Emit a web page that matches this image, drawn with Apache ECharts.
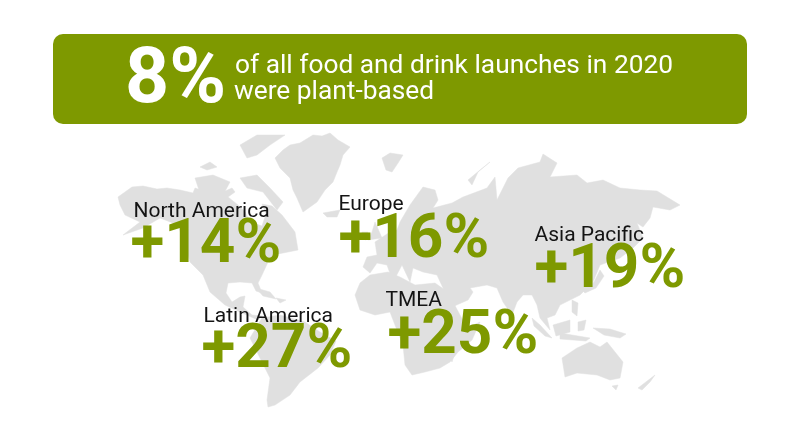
<!DOCTYPE html>
<html><head><meta charset="utf-8">
<style>html,body{margin:0;padding:0;background:#fff}#c{width:800px;height:428px}</style>
<script src="https://cdn.jsdelivr.net/npm/echarts@6/dist/echarts.min.js"></script>
</head><body><div id="c"></div>
<script>
const regions = ['North America','Europe','Asia Pacific','Latin America','TMEA'];
const growth = [14,16,19,27,25];
const headlineValue = 8;
const headlineLines = ['of all food and drink launches in 2020','were plant-based'];
const nameAnchors = [[133,212],[338,205],[534,236],[203,317],[385,301]];
const valueAnchors = [[130,246],[338,241],[534,271],[201,351],[387,337]];

const GREEN='#7e9900', GREY='#e0e0e0';
// decorative backdrop outlines, traced in reference pixels
const land = [
 // North America
 [[118,197],[125,192],[132,187],[143,186],[157,189],[167,188],[180,190],[193,193],[195,188],[210,193],[223,192],[232,188],[235,192],[228,197],[238,205],[245,212],[250,222],[262,226],[266,214],[262,204],[272,206],[282,215],[295,232],[298,250],[278,254],[268,262],[262,275],[258,283],[262,293],[256,291],[252,283],[240,282],[228,283],[226,293],[232,302],[240,297],[245,296],[243,307],[252,315],[262,316],[258,320],[240,312],[225,305],[210,292],[203,275],[190,262],[185,245],[178,225],[160,218],[143,228],[123,235],[140,222],[125,215],[120,205]],
 // South America
 [[262,318],[280,315],[305,322],[320,332],[336,341],[330,355],[318,368],[300,382],[290,395],[275,405],[268,407],[267,400],[270,378],[260,358],[250,338]],
 // Greenland
 [[275,158],[283,150],[290,145],[300,143],[313,135],[322,136],[330,133],[338,140],[350,147],[343,155],[340,165],[337,172],[333,182],[325,190],[317,202],[303,212],[297,198],[293,190],[290,178],[280,168]],
 // Arctic islands
 [[240,145],[257,135],[285,135],[270,145],[257,155],[247,158]],
 [[240,178],[257,175],[270,188],[283,202],[277,210],[263,192],[247,188]],
 [[195,178],[213,175],[230,182],[223,195],[200,193]],
 [[200,167],[210,162],[217,167],[207,170]],
 [[323,213],[340,210],[337,217],[327,217]],
 [[256,288],[270,292],[276,299],[263,296]],[[276,298],[286,300],[280,303]],
 // Eurasia with inland seas
 [[[400,222],[410,205],[423,187],[435,190],[438,200],[433,208],[452,203],[463,197],[487,188],[495,177],[497,200],[508,178],[518,168],[540,162],[543,154],[557,163],[550,177],[577,175],[587,183],[603,180],[620,188],[640,190],[657,191],[680,205],[670,210],[653,207],[650,218],[643,227],[637,223],[643,238],[633,248],[620,258],[600,265],[593,282],[580,295],[570,300],[560,305],[555,315],[547,318],[550,330],[540,318],[537,305],[532,295],[523,295],[517,302],[512,315],[503,302],[497,288],[487,285],[470,288],[473,292],[468,300],[452,307],[443,288],[437,275],[423,272],[413,268],[410,282],[402,265],[393,282],[387,265],[377,263],[370,273],[363,267],[367,257],[377,255],[375,242],[390,232],[397,230]],
  [[420,260],[430,258],[432,264],[422,266]],[[455,258],[462,260],[463,272],[456,270]]],
 // Africa
 [[355,295],[360,283],[370,275],[388,272],[400,277],[415,285],[435,283],[445,290],[452,300],[460,315],[467,328],[480,322],[472,340],[458,352],[450,362],[440,368],[425,372],[412,375],[405,365],[403,345],[395,325],[390,312],[375,315],[360,310]],
 // Islands of Europe and the north
 [[375,222],[382,238],[368,240],[372,232]],[[362,232],[368,232],[366,240],[361,238]],
 [[382,158],[390,153],[403,155],[398,163],[392,172],[386,170]],
 [[468,180],[480,170],[490,162],[478,172],[472,185]],
 // Asia-Pacific islands
 [[600,270],[604,276],[596,288],[585,293],[582,290],[594,282]],
 [[532,318],[540,325],[552,338],[545,336],[534,326]],
 [[553,325],[570,320],[570,332],[556,336]],
 [[572,300],[578,303],[577,316],[572,312]],
 [[560,333],[590,338],[586,341],[560,339]],
 [[578,322],[586,320],[584,330],[578,331]],
 [[593,328],[610,329],[626,334],[620,338],[604,335]],
 // Australia and neighbours
 [[562,358],[577,348],[590,342],[600,347],[607,342],[623,362],[620,378],[610,380],[597,375],[577,373],[565,377]],
 [[612,386],[618,385],[616,390]],[[638,388],[655,375],[650,382],[642,390]],
 // Madagascar
 [[450,358],[457,343],[455,352],[452,362]]
];
const features = land.map((p,i)=>({type:'Feature',properties:{name:'land'+i},
  geometry:{type:'Polygon',coordinates:(Array.isArray(p[0][0])?p:[p]).map(r=>{const q=r.map(([x,y])=>[x,-y]);q.push(q[0]);return q;})}}));
echarts.registerMap('backdrop',{type:'FeatureCollection',features});

const chart = echarts.init(document.getElementById('c'),null,{renderer:'canvas'});
const FONT='Roboto';
chart.setOption({
  animation:false,
  backgroundColor:'#fff',
  tooltip:{show:false},
  geo:{map:'backdrop',left:0,top:0,width:800,height:428,aspectScale:1,
    boundingCoords:[[0,0],[800,-428]],roam:false,silent:true,
    label:{show:false},
    itemStyle:{areaColor:GREY,borderColor:GREY,borderWidth:0.5}},
  series:[
    {type:'scatter',coordinateSystem:'geo',symbolSize:1,itemStyle:{color:'transparent',opacity:1},silent:true,
     data:regions.map((n,i)=>({name:n,value:[nameAnchors[i][0],-nameAnchors[i][1]]})),
     label:{show:true,position:'right',distance:0,formatter:'{b}',color:'#141414',fontFamily:FONT,fontSize:21,align:'left'}},
    {type:'scatter',coordinateSystem:'geo',symbolSize:1,itemStyle:{color:'transparent',opacity:1},silent:true,
     data:growth.map((v,i)=>({name:regions[i],value:[valueAnchors[i][0],-valueAnchors[i][1],v]})),
     label:{show:true,position:'right',distance:0,formatter:p=>'+'+p.value[2]+'%',color:GREEN,fontFamily:FONT,fontWeight:'bold',fontSize:62,align:'left'}}
  ],
  graphic:[
    {type:'rect',left:53,top:34,shape:{width:694,height:90,r:10},style:{fill:GREEN},silent:true},
    {type:'text',x:125,y:83,style:{text:headlineValue+'%',fill:'#fff',font:'bold 77px '+FONT,textVerticalAlign:'middle'},silent:true},
    {type:'text',x:235,y:66,style:{text:headlineLines[0],fill:'#fff',font:'26.3px '+FONT,textVerticalAlign:'middle'},silent:true},
    {type:'text',x:234,y:92,style:{text:headlineLines[1],fill:'#fff',font:'26.3px '+FONT,textVerticalAlign:'middle'},silent:true}
  ]
});
</script></body></html>
